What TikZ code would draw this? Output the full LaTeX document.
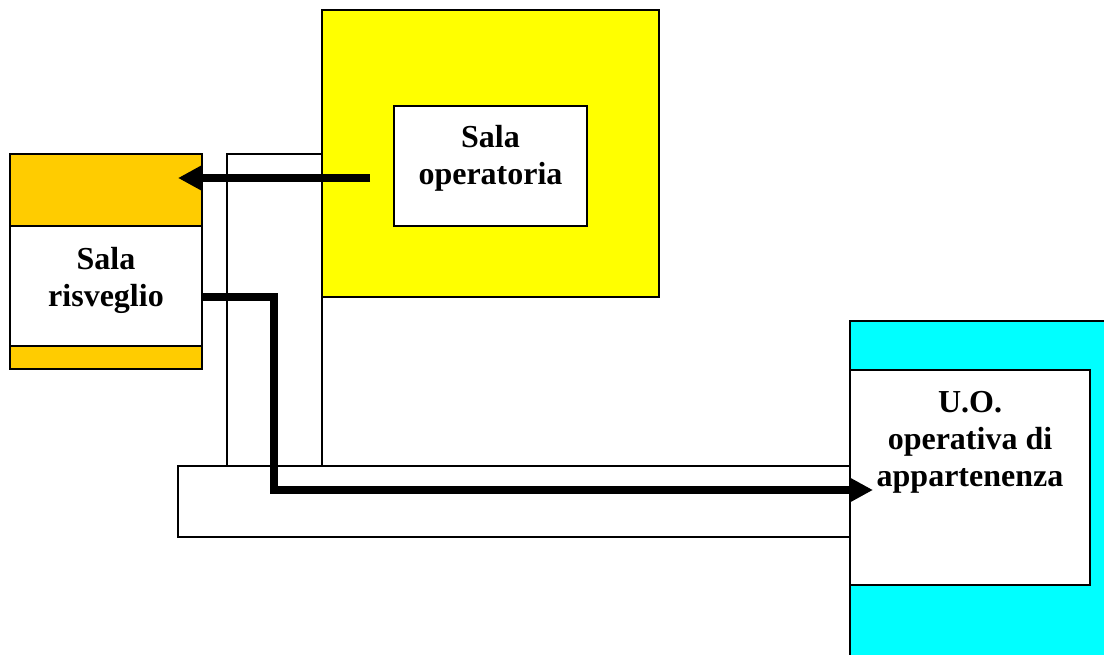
\documentclass[tikz,border=0pt]{standalone}
\usepackage{fontspec}
\setmainfont{Liberation Serif}
\usetikzlibrary{arrows.meta,calc}
\definecolor{yel}{HTML}{FFFF00}
\definecolor{orng}{HTML}{FFCC00}
\definecolor{cyn}{HTML}{00FFFF}
\begin{document}
\begin{tikzpicture}[x=1pt,y=-1pt,
  room/.style={draw=black,line width=1.5pt,anchor=north west,inner sep=0pt,outer sep=0pt},
  lbl/.style={font=\bfseries\fontsize{32}{37}\selectfont,align=center,inner sep=0pt},
  flow/.style={line width=8pt,-{Triangle[length=24pt,width=24pt]}}]
\useasboundingbox (0,0) rectangle (1104,654);
% corridors
\node[room,fill=white,minimum width=95pt,minimum height=312pt] (vcor) at (227,154) {};
\node[room,fill=white,minimum width=672pt,minimum height=71pt] (hcor) at (178,466) {};
% operating room
\node[room,fill=yel,minimum width=337pt,minimum height=287pt] (opblk) at (322,10) {};
\node[room,fill=white,minimum width=193pt,minimum height=120pt] (opbox) at (394,106) {};
\node[lbl] (optxt) at (490.5,158) {Sala\\operatoria};
% recovery room
\node[room,fill=orng,minimum width=192pt,minimum height=215pt] (wkblk) at (10,154) {};
\node[room,fill=white,minimum width=192pt,minimum height=120pt] (wkbox) at (10,226) {};
\node[lbl] (wktxt) at (106,280) {Sala\\risveglio};
% ward
\node[room,fill=cyn,minimum width=260pt,minimum height=340pt] (uoblk) at (850,321) {};
\node[room,fill=white,minimum width=240pt,minimum height=215pt] (uobox) at (850,370) {};
\node[lbl] (uotxt) at (970,442) {U.O.\\operativa di\\appartenenza};
% re-draw corridor edge that cyan box covers nothing else
\useasboundingbox (0,0) rectangle (1104,654);
% flows
\coordinate (s1) at ($(opbox.west)+(-24,12)$);
\coordinate (e1) at ($(wkblk.north east)+(-24,24)$);
\draw[flow] (s1) -- (s1 -| e1);
\coordinate (s2) at ($(wkbox.east)+(0,11)$);
\coordinate (t2) at (274,490);
\draw[flow] (s2) -| (t2) -- ($(t2 -| uobox.west)+(23,0)$);
\end{tikzpicture}
\end{document}
